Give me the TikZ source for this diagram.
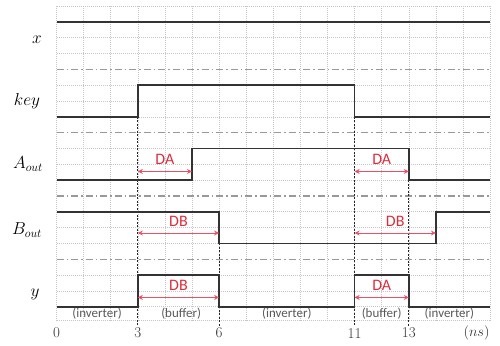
\documentclass[tikz,border=0pt]{standalone}
\usepackage{fontspec}
\newfontfamily\carlito{Carlito}
\usetikzlibrary{arrows.meta}
\definecolor{dred}{RGB}{220,45,60}
\definecolor{arred}{RGB}{235,80,100}
\tikzset{
  gridln/.style={draw=black!22, line width=0.6pt, dash pattern=on 1pt off 1pt},
  sepln/.style={draw=black!40, line width=1.3pt, dash pattern=on 7pt off 3pt on 1.5pt off 3pt},
  sig/.style={draw=black!80, line width=1.7pt, line join=miter},
  vdash/.style={draw=black!85, line width=1pt, dash pattern=on 2pt off 1.5pt},
  meas/.style={draw=arred, line width=1pt, {Stealth[length=5pt,width=5pt]}-{Stealth[length=5pt,width=5pt]}},
  dlab/.style={text=dred, font=\carlito\fontsize{16}{16}\selectfont, inner sep=0pt},
  glab/.style={text=black!65, font=\carlito\fontsize{13}{13}\selectfont, inner sep=0pt},
  slab/.style={font=\fontsize{16.5}{16.5}\selectfont, inner sep=0pt},
  num/.style={font=\fontsize{15}{15}\selectfont, text=black!80, inner sep=0pt}
}
\begin{document}
\begin{tikzpicture}[x=1pt,y=-1pt]
\useasboundingbox (0,0) rectangle (500,345);
% signal names
\node[slab] (lx) at (37,40) {$x$};
\node[slab] (lkey) at (27,101) {$key$};
\node[slab] (la) at (28,164) {$A_{out}$};
\node[slab] (lb) at (27,230) {$B_{out}$};
\node[slab] (ly) at (35,294) {$y$};
\begin{scope}[shift={(56.5,6)}, x=27.1pt, y=-15.83pt]
  % grid
  \foreach \t in {0,...,16} \draw[gridln] (\t,0) -- (\t,19.85);
  \foreach \k in {0,1,2,3,5,6,7,9,10,11,13,14,15,17,18,19,19.85} \draw[gridln] (0,\k) -- (16,\k);
  \foreach \k in {4,8,12,16} \draw[sepln] (0,\k) -- (16,\k);
  % dashed verticals
  \draw[vdash] (3,7) -- (3,20.2);
  \draw[vdash] (11,7) -- (11,20.2);
  \draw[vdash] (6,15) -- (6,20.2);
  \draw[vdash] (13,11) -- (13,20.2);
  % waveforms
  \draw[sig] (0,1) -- (16,1);
  \draw[sig] (0,7) -- (3,7) -- (3,5) -- (11,5) -- (11,7) -- (16,7);
  \draw[sig] (0,11) -- (5,11) -- (5,9) -- (13,9) -- (13,11) -- (16,11);
  \draw[sig] (0,13) -- (6,13) -- (6,15) -- (14,15) -- (14,13) -- (16,13);
  \draw[sig] (0,19) -- (3,19) -- (3,17) -- (6,17) -- (6,19) -- (11,19) -- (11,17) -- (13,17) -- (13,19) -- (16,19);
  % measurement arrows
  \coordinate (a1s) at (3,10.45); \coordinate (a1e) at (5,10.45);
  \coordinate (a2s) at (11,10.45); \coordinate (a2e) at (13,10.45);
  \coordinate (b1s) at (3,14.34); \coordinate (b1e) at (6,14.34);
  \coordinate (b2s) at (11,14.34); \coordinate (b2e) at (14,14.34);
  \coordinate (y1s) at (3,18.41); \coordinate (y1e) at (6,18.41);
  \coordinate (y2s) at (11,18.41); \coordinate (y2e) at (13,18.41);
  \draw[meas] (a1s) -- (a1e);
  \draw[meas] (a2s) -- (a2e);
  \draw[meas] (b1s) -- (b1e);
  \draw[meas] (b2s) -- (b2e);
  \draw[meas] (y1s) -- (y1e);
  \draw[meas] (y2s) -- (y2e);
  \node[dlab] (ta1) at (4,9.67) {DA};
  \node[dlab] (ta2) at (12,9.67) {DA};
  \node[dlab] (tb1) at (4.5,13.58) {DB};
  \node[dlab] (tb2) at (12.5,13.58) {DB};
  \node[dlab] (ty1) at (4.5,17.62) {DB};
  \node[dlab] (ty2) at (12,17.62) {DA};
  % gate labels
  \node[glab] (g1) at (1.5,19.46) {(inverter)};
  \node[glab] (g2) at (4.6,19.46) {(buffer)};
  \node[glab] (g3) at (8.5,19.46) {(inverter)};
  \node[glab] (g4) at (12,19.46) {(buffer)};
  \node[glab] (g5) at (14.5,19.46) {(inverter)};
  % axis numbers
  \node[num] (n0) at (0,20.66) {0};
  \node[num] (n3) at (3,20.66) {3};
  \node[num] (n6) at (6,20.66) {6};
  \node[num] (n11) at (11,20.66) {11};
  \node[num] (n13) at (13,20.66) {13};
  \node[num] (nns) at (15.5,20.66) {$(ns)$};
\end{scope}
\end{tikzpicture}
\end{document}
